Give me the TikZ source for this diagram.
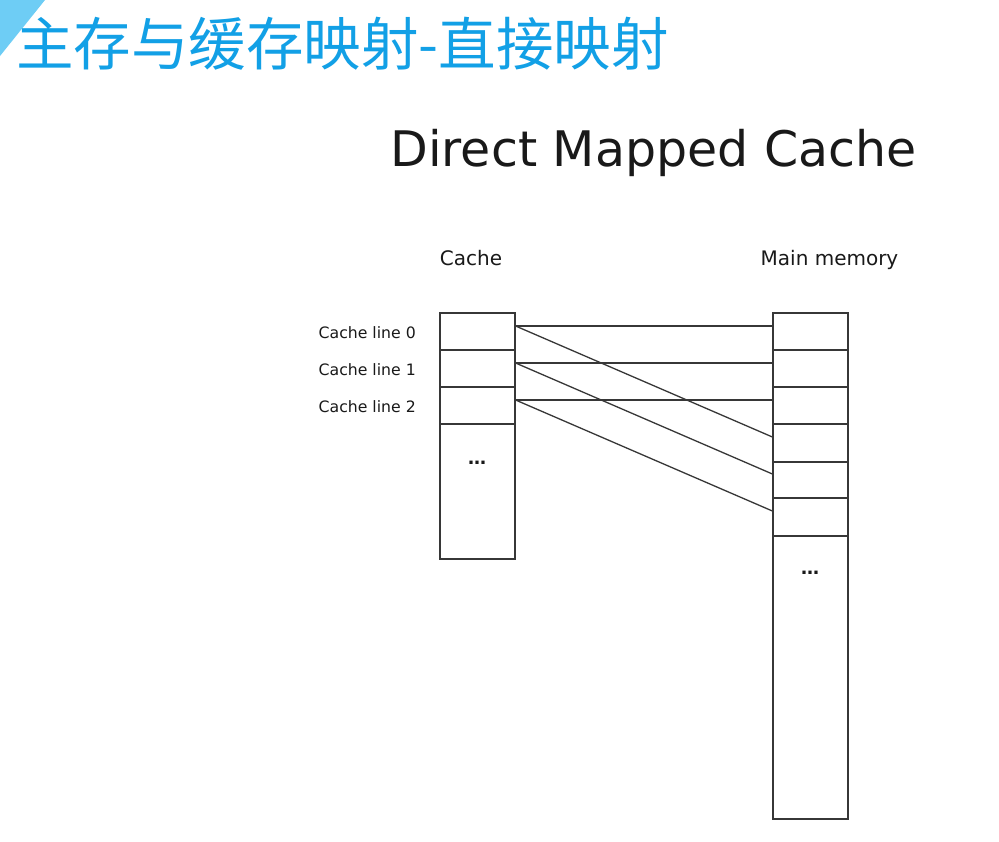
\documentclass[tikz,border=0pt]{standalone}
\usepackage{fontspec}
\setmainfont{DejaVu Sans}
\newfontfamily\cjk{Noto Sans CJK SC}
\definecolor{titleblue}{RGB}{18,160,230}
\definecolor{trianglue}{RGB}{110,205,245}
\definecolor{linegray}{RGB}{55,55,55}
\tikzset{
  cell/.style={draw=linegray, line width=1.2pt, minimum width=75pt, inner sep=0pt},
  link/.style={draw=linegray, line width=1.3pt},
  lbl/.style={inner sep=0pt, text=black!90},
}
\begin{document}
\begin{tikzpicture}[x=1pt,y=-1pt]
\useasboundingbox (0,0) rectangle (999,841);
\fill[white] (0,0) rectangle (999,841);
\fill[trianglue] (0,0) -- (45,0) -- (0,56) -- cycle;
\node[anchor=base west, inner sep=0pt, font=\cjk\fontsize{57.5}{58}\selectfont, text=titleblue] (title) at (16,65) {主存与缓存映射-直接映射};

\node[lbl, anchor=base, font=\fontsize{49}{49}\selectfont] (head) at (653.5,166) {Direct Mapped Cache};
\node[lbl, anchor=base, font=\fontsize{20}{20}\selectfont] (hc) at (471,265) {Cache};
\node[lbl, anchor=base, font=\fontsize{20}{20}\selectfont] (hm) at (829.5,265) {Main memory};

\node[lbl, anchor=base east, font=\fontsize{15.7}{16}\selectfont] (l0) at (416,338) {Cache line 0};
\node[lbl, anchor=base east, font=\fontsize{15.7}{16}\selectfont] (l1) at (416,375) {Cache line 1};
\node[lbl, anchor=base east, font=\fontsize{15.7}{16}\selectfont] (l2) at (416,412) {Cache line 2};

% cache column
\node[cell, minimum height=37pt] (c0) at (477.5,331.5) {};
\node[cell, minimum height=37pt] (c1) at (477.5,368.5) {};
\node[cell, minimum height=37pt] (c2) at (477.5,405.5) {};
\node[cell, minimum height=135pt] (cr) at (477.5,491.5) {};
\node[lbl, font=\bfseries\fontsize{18}{18}\selectfont] (cd) at (477,463) {…};

% main memory column
\node[cell, minimum height=37pt] (m0) at (810.5,331.5) {};
\node[cell, minimum height=37pt] (m1) at (810.5,368.5) {};
\node[cell, minimum height=37pt] (m2) at (810.5,405.5) {};
\node[cell, minimum height=38pt] (m3) at (810.5,443) {};
\node[cell, minimum height=36pt] (m4) at (810.5,480) {};
\node[cell, minimum height=38pt] (m5) at (810.5,517) {};
\node[cell, minimum height=283pt] (mr) at (810.5,677.5) {};
\node[lbl, font=\bfseries\fontsize{18}{18}\selectfont] (md) at (810,573) {…};

% mappings
\draw[link] ([yshift=5.5pt]c0.east) -- ([yshift=5.5pt]m0.west);
\draw[link] ([yshift=5.5pt]c0.east) -- ([yshift=6pt]m3.west);
\draw[link] ([yshift=5.5pt]c1.east) -- ([yshift=5.5pt]m1.west);
\draw[link] ([yshift=5.5pt]c1.east) -- ([yshift=6pt]m4.west);
\draw[link] ([yshift=5.5pt]c2.east) -- ([yshift=5.5pt]m2.west);
\draw[link] ([yshift=5.5pt]c2.east) -- ([yshift=6pt]m5.west);
\end{tikzpicture}
\end{document}
